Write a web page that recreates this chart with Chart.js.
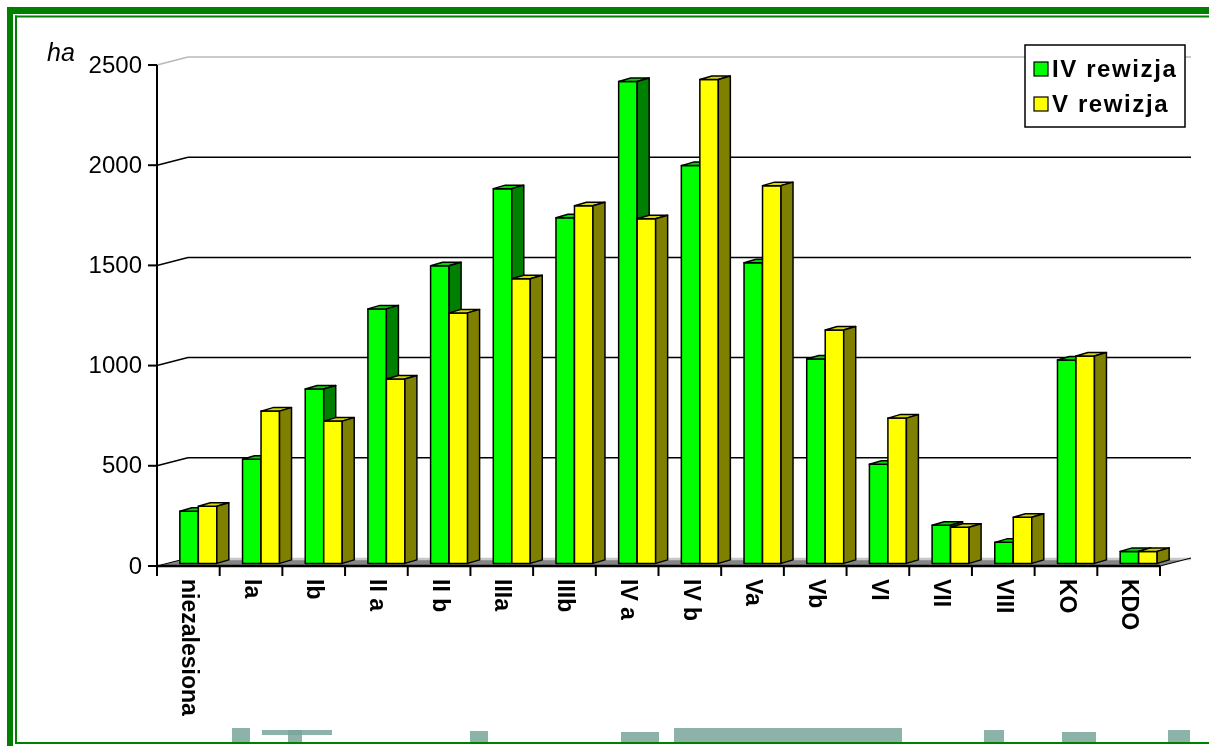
<!DOCTYPE html>
<html>
<head>
<meta charset="utf-8">
<script src="https://cdn.jsdelivr.net/npm/chart.js@4.4.0/dist/chart.umd.min.js"></script>
<style>
  html, body { margin: 0; padding: 0; background: #fff; }
  #wrap { position: relative; width: 1209px; height: 746px; }
</style>
</head>
<body>
<div id="wrap"><canvas id="c"></canvas></div>
<script>
const KLASY   = ['niezalesiona', 'Ia', 'Ib', 'II a', 'II b', 'IIIa', 'IIIb', 'IV a', 'IV b', 'Va', 'Vb', 'VI', 'VII', 'VIII', 'KO', 'KDO'];
const REW_IV  = [260, 520, 870, 1270, 1485, 1870, 1725, 2405, 1985, 1500, 1020, 495, 190, 105, 1015, 60];
const REW_V   = [285, 760, 710, 920, 1250, 1420, 1785, 1720, 2415, 1885, 1165, 725, 180, 230, 1035, 60];
const Y_TICKS = [0, 500, 1000, 1500, 2000, 2500];
const SERIE   = ['IV rewizja', 'V rewizja'];
const JEDN    = 'ha';

// colours: front, top, side
const COL = [
  { front: '#00ff00', top: '#00d800', side: '#008000' },
  { front: '#ffff00', top: '#d8d800', side: '#808000' },
];

// 3d offsets (bar plane -> front plane / back wall), bar depth
const FX = -10, FY = 2.6;
const BX = 21,  BY = -5.4;
const DX = 12,  DY = 3.5;

function line(ctx, x0, y0, x1, y1, col, w) {
  ctx.beginPath();
  ctx.moveTo(x0, y0);
  ctx.lineTo(x1, y1);
  ctx.strokeStyle = col;
  ctx.lineWidth = w;
  ctx.stroke();
}
function poly(ctx, pts, fill) {
  ctx.beginPath();
  pts.forEach((p, i) => i ? ctx.lineTo(p[0], p[1]) : ctx.moveTo(p[0], p[1]));
  ctx.closePath();
  ctx.fillStyle = fill;
  ctx.fill();
  ctx.strokeStyle = '#000';
  ctx.lineWidth = 1.5;
  ctx.lineJoin = 'round';
  ctx.stroke();
}

const g3d = {
  id: 'g3d',
  beforeDraw(chart) {
    const ctx = chart.ctx;
    ctx.save();
    ctx.fillStyle = '#fff';
    ctx.fillRect(0, 0, chart.width, chart.height);
    // faint logo pieces at the bottom
    ctx.fillStyle = 'rgba(120,165,155,0.85)';
    [[232, 728, 18, 14], [262, 730, 70, 5], [288, 730, 14, 12], [470, 731, 18, 11],
     [621, 732, 38, 10], [674, 728, 228, 14], [984, 730, 20, 12], [1062, 732, 34, 10], [1168, 730, 22, 12]]
      .forEach(r => ctx.fillRect(r[0], r[1], r[2], r[3]));
    // double green frame
    ctx.fillStyle = '#008000';
    ctx.fillRect(7, 7, chart.width - 7, 7);
    ctx.fillRect(7, 7, 6, chart.height - 7);
    ctx.fillRect(15, 15.5, chart.width - 15, 2);
    ctx.fillRect(15, 15.5, 2, 744 - 15.5);
    ctx.fillRect(15, 742, chart.width - 15, 2);
    // unit
    ctx.fillStyle = '#000';
    ctx.font = 'italic 25px "Liberation Sans", Arial, sans-serif';
    ctx.textAlign = 'left';
    ctx.textBaseline = 'alphabetic';
    ctx.fillText(JEDN, 47, 61);
    ctx.restore();
  },
  beforeDatasetsDraw(chart) {
    const ctx = chart.ctx;
    const { left, right, bottom } = chart.chartArea;
    const xs = chart.scales.x, ys = chart.scales.y;
    ctx.save();

    // floor
    ctx.beginPath();
    ctx.moveTo(left + FX, bottom + FY);
    ctx.lineTo(right + FX, bottom + FY);
    ctx.lineTo(right + BX, bottom + BY);
    ctx.lineTo(left + BX, bottom + BY);
    ctx.closePath();
    ctx.fillStyle = '#858585';
    ctx.fill();
    line(ctx, left + BX, bottom + BY + 1, right + BX, bottom + BY + 1, '#c8c8c8', 2.5);
    line(ctx, right + FX, bottom + FY, right + BX, bottom + BY, '#000', 1.2);

    // back wall grid + left wall diagonals
    Y_TICKS.forEach(v => {
      const py = ys.getPixelForValue(v);
      const col = v === Y_TICKS[Y_TICKS.length - 1] ? '#b8b8b8' : '#000';
      line(ctx, left + FX, py + FY, left + BX, py + BY, col, v === 0 ? 1 : 1.5);
      if (v > 0) line(ctx, left + BX, py + BY, right + BX, py + BY, col, 1.5);
    });

    // y axis, ticks, labels
    const y0 = ys.getPixelForValue(0) + FY, yTop = ys.getPixelForValue(2500) + FY;
    line(ctx, left + FX, yTop, left + FX, y0 + 1, '#000', 2);
    ctx.font = '24px "Liberation Sans", Arial, sans-serif';
    ctx.fillStyle = '#000';
    ctx.textAlign = 'right';
    ctx.textBaseline = 'middle';
    Y_TICKS.forEach(v => {
      const py = ys.getPixelForValue(v) + FY;
      line(ctx, left + FX - 9, py, left + FX, py, '#000', 2);
      ctx.fillText(String(v), left + FX - 15, py + 1);
    });

    // x axis, ticks, labels
    line(ctx, left + FX, y0, right + FX, y0, '#000', 2.5);
    const cw = xs.getPixelForValue(1) - xs.getPixelForValue(0);
    for (let i = 0; i <= KLASY.length; i++) {
      const px = xs.getPixelForValue(0) - cw / 2 + i * cw + FX;
      line(ctx, px, y0, px, y0 + 10, '#000', 2);
    }
    ctx.font = 'bold 23px "Liberation Sans", Arial, sans-serif';
    ctx.textAlign = 'left';
    ctx.textBaseline = 'middle';
    KLASY.forEach((k, i) => {
      ctx.save();
      ctx.translate(xs.getPixelForValue(i) + FX, y0 + 13);
      ctx.rotate(Math.PI / 2);
      ctx.fillText(k, 0, 0);
      ctx.restore();
    });
    ctx.restore();
  },
  // front, top and side faces, left bar first so the right one hides its side
  afterDatasetsDraw(chart) {
    const ctx = chart.ctx;
    const metas = [0, 1].map(i => chart.getDatasetMeta(i));
    ctx.save();
    KLASY.forEach((k, j) => {
      metas.forEach((meta, i) => {
        const c = COL[i];
        const { x, y, width, base } = meta.data[j].getProps(['x', 'y', 'width', 'base'], true);
        const x0 = x - width / 2, x1 = x + width / 2;
        poly(ctx, [[x0, y], [x1, y], [x1, base], [x0, base]], c.front);
        poly(ctx, [[x0, y], [x1, y], [x1 + DX, y - DY], [x0 + DX, y - DY]], c.top);
        poly(ctx, [[x1, y], [x1 + DX, y - DY], [x1 + DX, base - DY], [x1, base]], c.side);
      });
    });
    ctx.restore();
  },
  afterDraw(chart) {
    const ctx = chart.ctx;
    ctx.save();
    ctx.fillStyle = '#fff';
    ctx.fillRect(1025, 45, 160, 82);
    ctx.strokeStyle = '#000';
    ctx.lineWidth = 1.5;
    ctx.strokeRect(1025, 45, 160, 82);
    ctx.font = 'bold 24px "Liberation Sans", Arial, sans-serif';
    ctx.textAlign = 'left';
    ctx.textBaseline = 'alphabetic';
    if ('letterSpacing' in ctx) ctx.letterSpacing = '1.6px';
    SERIE.forEach((s, i) => {
      const yy = 62 + i * 35;
      ctx.fillStyle = COL[i].front;
      ctx.fillRect(1034, yy, 14, 14);
      ctx.lineWidth = 1.2;
      ctx.strokeRect(1034, yy, 14, 14);
      ctx.fillStyle = '#000';
      ctx.fillText(s, 1052, yy + 15);
    });
    ctx.restore();
  },
};

new Chart(document.getElementById('c'), {
  type: 'bar',
  data: {
    labels: KLASY,
    datasets: [
      { label: SERIE[0], data: REW_IV, backgroundColor: COL[0].front, borderColor: '#000', borderWidth: 1.5, borderSkipped: false },
      { label: SERIE[1], data: REW_V,  backgroundColor: COL[1].front, borderColor: '#000', borderWidth: 1.5, borderSkipped: false },
    ],
  },
  options: {
    responsive: true, maintainAspectRatio: false, animation: false,
    categoryPercentage: 0.59, barPercentage: 1,
    layout: { padding: { left: 167, right: 39, top: 62.4, bottom: 182.6 } },
    plugins: { legend: { display: false }, tooltip: { enabled: false } },
    scales: {
      x: { display: false },
      y: { display: false, min: 0, max: 2500 },
    },
  },
  plugins: [g3d],
});
</script>
</body>
</html>
